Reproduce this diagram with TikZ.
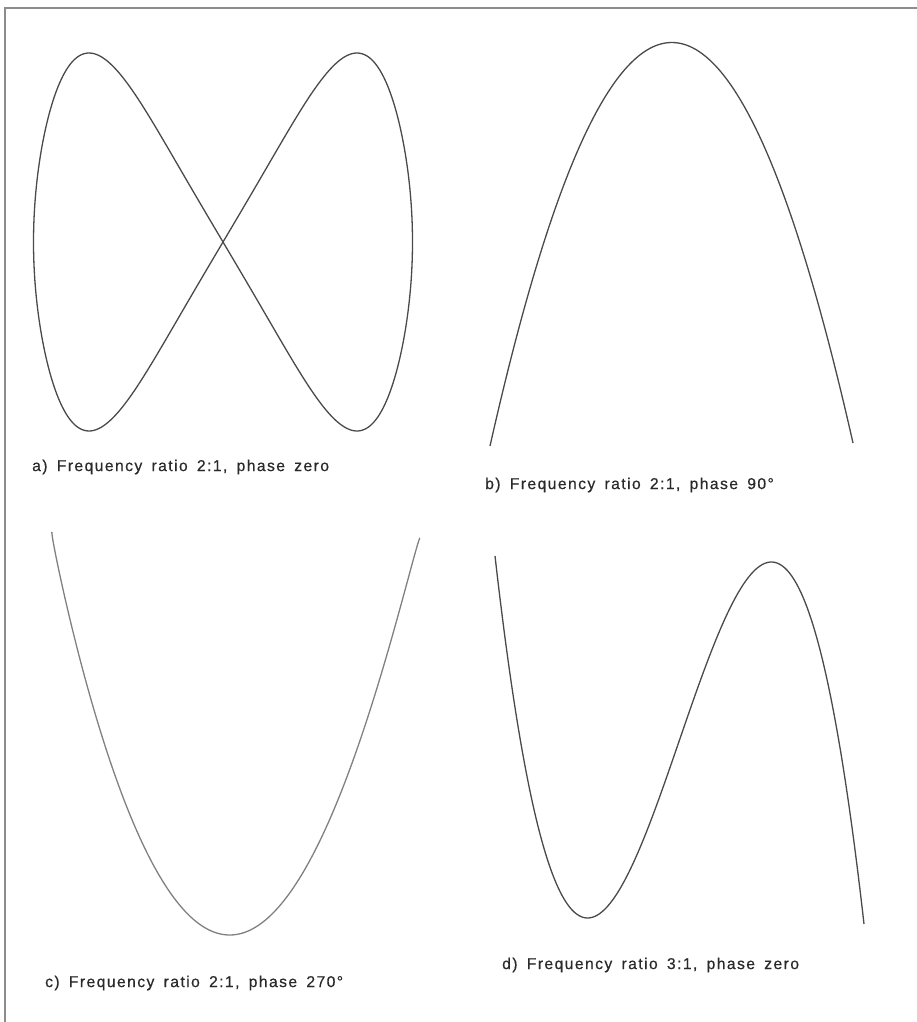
\documentclass[tikz,border=0pt]{standalone}
\usepackage{fontspec}
\setmainfont{Liberation Sans}
\newfontfamily\capfont[LetterSpace=9,WordSpace=1.6,FakeBold=0.5]{Liberation Sans}
\definecolor{scopeink}{HTML}{4a4a4a}
\definecolor{frameink}{HTML}{8c8c8c}
\definecolor{labelink}{HTML}{2a2a2a}
% slightly peaked trace for the figure of eight
\newcommand{\tri}{0.04}

\begin{document}
\begin{tikzpicture}[
        x=1pt, y=-1pt,
        trace/.style={draw=scopeink, line width=1.3pt, line join=round},
        caption/.style={anchor=west, inner sep=0pt, text=labelink, font=\capfont\fontsize{15.7}{18}\selectfont},
        frame/.style={draw=frameink, line width=1.5pt}
    ]
    \useasboundingbox (0,0) rectangle (917,1022);

    % frame, top and left edges only
    \draw[frame] (5,1022) -- (5,8) -- (917,8);

    % a) 2:1, phase zero
    \draw[trace] plot[domain=0:360, samples=360] ({223+189.5*sin(\x)}, {242-189*(sin(2*\x)-\tri*sin(6*\x))/(1+\tri)}) -- cycle;
    % b) 2:1, phase 90
    \draw[trace] plot[domain=-90:90, samples=200] ({671.5+181.5*sin(\x)}, {243.5-1.5*sin(\x)-201*cos(2*\x)});
    % c) 2:1, phase 270
    \draw[trace, draw=scopeink!70] plot[domain=-90:90, samples=200] ({236-7*cos(\x)+184*sin(\x)}, {735+3*sin(\x)+200*cos(2*\x)});
    % d) 3:1, phase zero
    \draw[trace] plot[domain=-90:90, samples=200] ({679.5+184.5*sin(\x)}, {740+4*sin(\x)-180*sin(3*\x)});

    \node[caption] (capA) at (32,467) {a) Frequency ratio 2:1, phase zero};
    \node[caption] (capB) at (485,485) {b) Frequency ratio 2:1, phase 90°};
    \node[caption] (capC) at (45,983) {c) Frequency ratio 2:1, phase 270°};
    \node[caption] (capD) at (502,965) {d) Frequency ratio 3:1, phase zero};

\end{tikzpicture}
\end{document}
